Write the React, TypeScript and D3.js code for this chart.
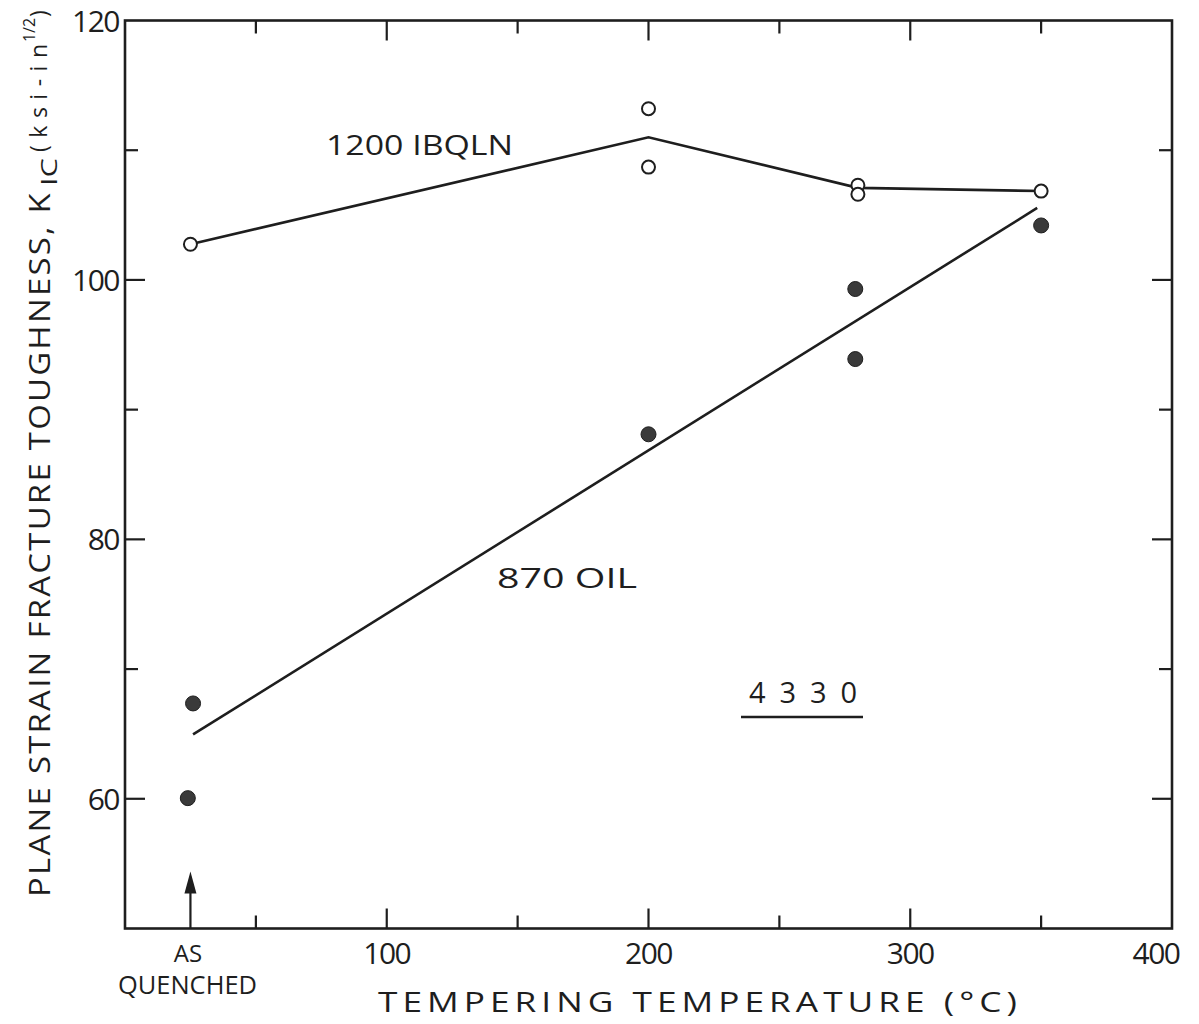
import React from "react";
import * as d3 from "d3";

const W = 1199;
const H = 1024;

// Data (tempering temperature °C, K_IC ksi-in^1/2)
const ibqlnTemp = [25, 200, 200, 280, 280, 350];
const ibqlnK = [102.75, 113.2, 108.7, 107.3, 106.6, 106.85];
const ibqlnLineTemp = [25, 200, 280, 350];
const ibqlnLineK = [102.75, 111.0, 107.1, 106.85];

const oilTemp = [26, 24, 200, 279, 279, 350];
const oilK = [67.35, 60.05, 88.1, 99.3, 93.9, 104.2];
const oilLineTemp = [26, 348.5];
const oilLineK = [64.96, 105.55];

const xLabelTicks = [100, 200, 300, 400];
const xMajorTicks = [100, 200, 300];
const xMinorTicks = [50, 150, 250, 350];
const yLabelTicks = [60, 80, 100, 120];
const yMajorTicks = [60, 80, 100];
const yMinorTicks = [70, 90, 110];
const asQuenchedTemp = 25;
const arrowTopK = 54.4;

const FONT = "'Open Sans', 'DejaVu Sans', sans-serif";
const INK = "#1e1e1e";

export default function App() {
  const x = d3.scaleLinear().domain([0, 400]).range([125, 1172]);
  const y = d3.scaleLinear().domain([50, 120]).range([928.5, 20.5]);
  const [x0, x1] = x.range();
  const [y0, y1] = y.range();
  const MAJ = 20;
  const MIN = 13;

  const line = d3
    .line<[number, number]>()
    .x((d) => x(d[0]))
    .y((d) => y(d[1]));

  const ibqlnLine = line(ibqlnLineTemp.map((t, i) => [t, ibqlnLineK[i]]));
  const oilLine = line(oilLineTemp.map((t, i) => [t, oilLineK[i]]));

  const ax = x(asQuenchedTemp);
  const arrowTop = y(arrowTopK);
  const txt = { fontFamily: FONT, fontWeight: 400, fill: INK } as const;

  return (
    <svg width={W} height={H} style={{ display: "block", position: "absolute", left: 0, top: 0, background: "#fff" }}>
      <rect x={0} y={0} width={W} height={H} fill="#fff" />
      {/* frame */}
      <rect x={x0} y={y1} width={x1 - x0} height={y0 - y1} fill="none" stroke={INK} strokeWidth={2.6} />

      {/* x ticks bottom & top */}
      {xMajorTicks.map((t) => (
        <g key={"xM" + t}>
          <line x1={x(t)} x2={x(t)} y1={y0} y2={y0 - MAJ} stroke={INK} strokeWidth={2.2} />
          <line x1={x(t)} x2={x(t)} y1={y1} y2={y1 + MAJ} stroke={INK} strokeWidth={2.2} />
        </g>
      ))}
      {xMinorTicks.map((t) => (
        <g key={"xm" + t}>
          <line x1={x(t)} x2={x(t)} y1={y0} y2={y0 - MIN} stroke={INK} strokeWidth={2.2} />
          <line x1={x(t)} x2={x(t)} y1={y1} y2={y1 + MIN} stroke={INK} strokeWidth={2.2} />
        </g>
      ))}
      {/* y ticks left & right */}
      {yMajorTicks.map((v) => (
        <g key={"yM" + v}>
          <line x1={x0} x2={x0 + MAJ} y1={y(v)} y2={y(v)} stroke={INK} strokeWidth={2.2} />
          <line x1={x1} x2={x1 - MAJ} y1={y(v)} y2={y(v)} stroke={INK} strokeWidth={2.2} />
        </g>
      ))}
      {yMinorTicks.map((v) => (
        <g key={"ym" + v}>
          <line x1={x0} x2={x0 + MIN} y1={y(v)} y2={y(v)} stroke={INK} strokeWidth={2.2} />
          <line x1={x1} x2={x1 - MIN} y1={y(v)} y2={y(v)} stroke={INK} strokeWidth={2.2} />
        </g>
      ))}

      {/* y tick labels */}
      {yLabelTicks.map((v) => (
        <text key={"yl" + v} {...txt} x={x0 - 6} y={y(v) + 11} textAnchor="end" fontSize={30} letterSpacing={-1.5}>
          {v}
        </text>
      ))}
      {/* x tick labels */}
      {xLabelTicks.map((t) => (
        <text key={"xl" + t} {...txt} x={t === 400 ? x(t) - 16 : x(t)} y={y0 + 35} textAnchor="middle" fontSize={30} letterSpacing={-1.5}>
          {t}
        </text>
      ))}
      <text {...txt} x={188} y={962} textAnchor="middle" fontSize={24}>
        AS
      </text>
      <text {...txt} x={118} y={994} fontSize={25} textLength={139} lengthAdjust="spacingAndGlyphs">
        QUENCHED
      </text>

      {/* as-quenched arrow */}
      <line x1={ax} x2={ax} y1={y0} y2={arrowTop + 10} stroke={INK} strokeWidth={2.2} />
      <path d={`M${ax},${arrowTop} L${ax - 6},${arrowTop + 22} L${ax + 6},${arrowTop + 22} Z`} fill={INK} />

      {/* x axis title */}
      <text {...txt} x={378} y={1012} fontSize={28} letterSpacing={4} textLength={644} lengthAdjust="spacingAndGlyphs">
        TEMPERING TEMPERATURE (°C)
      </text>

      {/* y axis title */}
      <g transform="translate(50,0) rotate(-90)">
        <text {...txt} x={-897} y={0} fontSize={29} letterSpacing={2} textLength={706} lengthAdjust="spacingAndGlyphs">
          PLANE STRAIN FRACTURE TOUGHNESS, K
        </text>
        <text {...txt} x={-186} y={7} fontSize={21} textLength={28} lengthAdjust="spacingAndGlyphs">
          IC
        </text>
        <text {...txt} x={-152} y={-3} fontSize={23} textLength={108} lengthAdjust="spacing">
          (ksi-in
        </text>
        <text {...txt} x={-42} y={-15} fontSize={17} textLength={24} lengthAdjust="spacingAndGlyphs">
          1/2
        </text>
        <text {...txt} x={-17} y={-3} fontSize={23}>
          )
        </text>
      </g>

      {/* curves */}
      <path d={ibqlnLine || ""} fill="none" stroke={INK} strokeWidth={2.6} />
      <path d={oilLine || ""} fill="none" stroke={INK} strokeWidth={2.6} />

      {/* points */}
      {ibqlnTemp.map((t, i) => (
        <circle key={"o" + i} cx={x(t)} cy={y(ibqlnK[i])} r={6.5} fill="#fff" stroke={INK} strokeWidth={2} />
      ))}
      {oilTemp.map((t, i) => (
        <circle key={"f" + i} cx={x(t)} cy={y(oilK[i])} r={7.5} fill="#3a3a3a" stroke={INK} strokeWidth={1} />
      ))}

      {/* annotations */}
      <text {...txt} x={326} y={155} fontSize={28} textLength={187} lengthAdjust="spacingAndGlyphs">
        1200 IBQLN
      </text>
      <text {...txt} x={497} y={588} fontSize={28} textLength={140} lengthAdjust="spacingAndGlyphs">
        870 OIL
      </text>
      <text {...txt} x={749} y={703} fontSize={29} textLength={108} lengthAdjust="spacing">
        4330
      </text>
      <line x1={741} x2={863} y1={717} y2={717} stroke={INK} strokeWidth={2.6} />
    </svg>
  );
}
